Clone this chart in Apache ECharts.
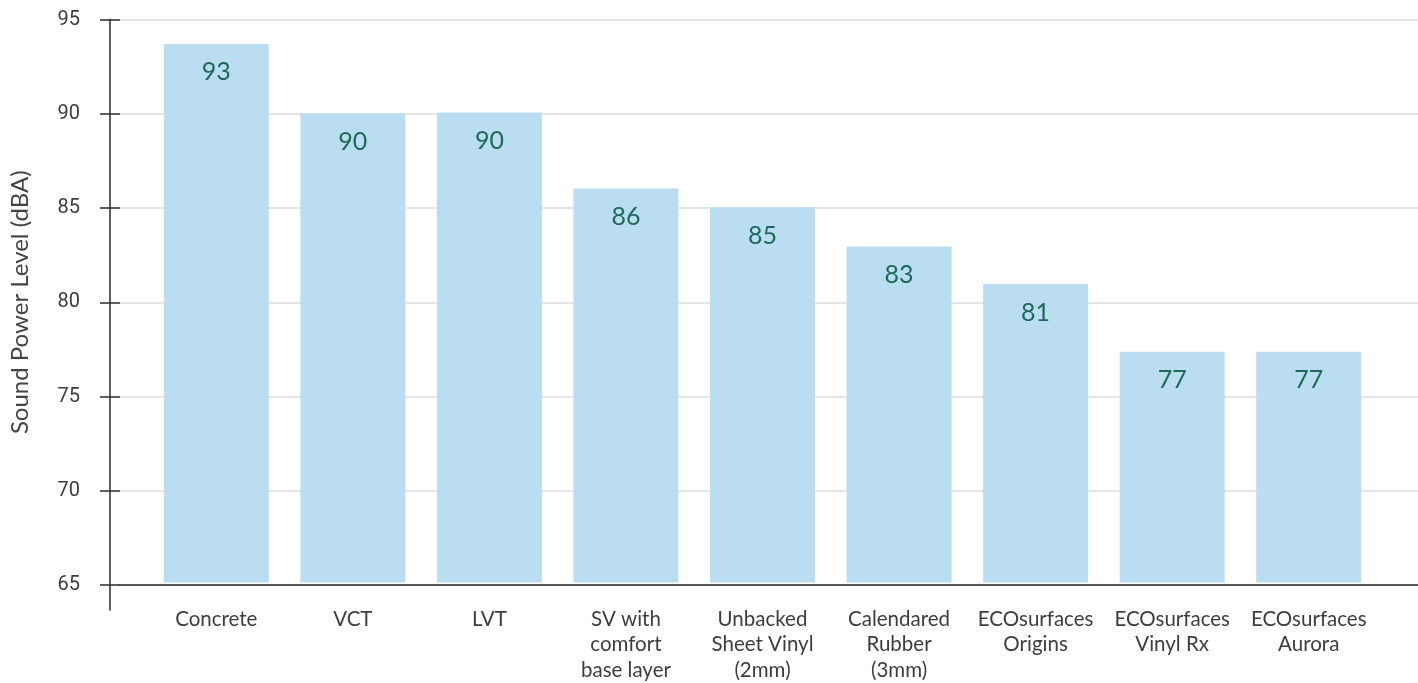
<!DOCTYPE html>
<html>
<head>
<meta charset="utf-8">
<script src="https://cdn.jsdelivr.net/npm/echarts@6/dist/echarts.min.js"></script>
<style>
  html, body { margin: 0; padding: 0; background: #fff; }
  #chart { width: 1418px; height: 683px; }
</style>
</head>
<body>
<div id="chart"></div>
<script>
// 床材ごとの音響パワーレベル（dBA）
const categories = [
  'Concrete', 'VCT', 'LVT', 'SV with\ncomfort\nbase layer', 'Unbacked\nSheet Vinyl\n(2mm)',
  'Calendared\nRubber\n(3mm)', 'ECOsurfaces\nOrigins', 'ECOsurfaces\nVinyl Rx', 'ECOsurfaces\nAurora',
];
const soundLevels = [93.7, 90.0, 90.05, 86.0, 85.0, 82.9, 80.9, 77.3, 77.3];
const barLabels = ['93', '90', '90', '86', '85', '83', '81', '77', '77'];
const yTicks = { min: 65, max: 95, interval: 5 };

(() => {
  const box = document.getElementById('chart');
  const chart = echarts.init(box, null, { renderer: 'canvas' });
  const txt = '#3d3d3d';

  chart.setOption({
    backgroundColor: '#fff',
    animation: false,
    grid: [
      // 0: 目盛り・グリッド線・下端の軸線
      { left: 110, right: 0, top: 19.5, bottom: 98 },
      // 1: 棒グラフ本体
      { left: 148, right: 41, top: 19.5, bottom: 98 },
      // 2: 下に少し伸びた縦軸線だけ
      { left: 110, right: 1300, top: 19.5, bottom: 73 },
    ],
    xAxis: [
      {
        gridIndex: 0, type: 'value', min: 0, max: 1,
        axisLine: { show: true, lineStyle: { color: '#2b2b2b', width: 1.5 } },
        axisTick: { show: false }, axisLabel: { show: false }, splitLine: { show: false },
      },
      {
        gridIndex: 1, type: 'category', data: categories,
        axisLine: { show: false }, axisTick: { show: false },
        axisLabel: {
          color: txt, fontFamily: 'Lato', fontSize: 20.5, lineHeight: 25.5,
          margin: 24, interval: 0,
        },
      },
      {
        gridIndex: 2, type: 'value', min: 0, max: 1, show: false,
      },
    ],
    yAxis: [
      {
        gridIndex: 0, type: 'value', ...yTicks,
        name: 'Sound Power Level (dBA)', nameLocation: 'middle', nameGap: 88,
        nameTextStyle: { color: '#444', fontFamily: 'Lato', fontSize: 24 },
        axisLine: { show: false },
        axisTick: { show: true, length: 20, lineStyle: { color: '#2b2b2b', width: 1.5 } },
        axisLabel: { color: txt, fontFamily: 'Roboto', fontSize: 20, margin: 40 },
        splitLine: { lineStyle: { color: '#dcdcdc', width: 1.5 } },
      },
      {
        gridIndex: 1, type: 'value', ...yTicks, show: false,
      },
      {
        gridIndex: 2, type: 'value', min: 0, max: 1,
        axisLine: { show: true, lineStyle: { color: '#2b2b2b', width: 1.5 } },
        axisTick: { show: false }, axisLabel: { show: false }, splitLine: { show: false },
      },
    ],
    series: [
      {
        type: 'bar',
        xAxisIndex: 1,
        yAxisIndex: 1,
        data: soundLevels,
        barWidth: 105,
        itemStyle: { color: '#bbddf2' },
        label: {
          show: true,
          position: 'insideTop',
          distance: 16,
          color: '#1e6a58',
          fontFamily: 'Lato',
          fontSize: 25,
          formatter: (p) => barLabels[p.dataIndex],
        },
      },
    ],
  });

  window.addEventListener('resize', () => chart.resize());
})();
</script>
</body>
</html>
